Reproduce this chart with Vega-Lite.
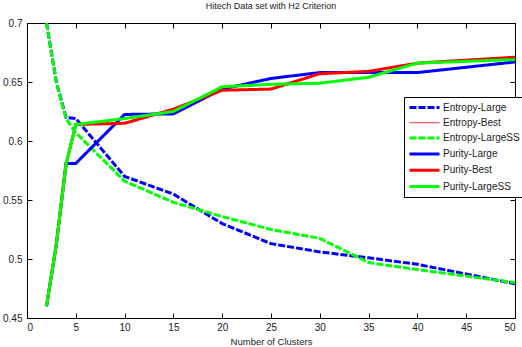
{
 "$schema": "https://vega.github.io/schema/vega-lite/v6.json",
 "width": 488, "height": 295,
 "autosize": "none",
 "padding": {"left": 27, "top": 23, "right": 7, "bottom": 29},
 "background": "white",
 "config": {"view": {"stroke": "black", "strokeWidth": 1}, "font": "Liberation Sans",
   "legend": {"strokeColor": "black", "fillColor": "white", "strokeWidth": 1},
   "axis": {"labelFontSize": 10, "labelColor": "#222", "domainColor": "black", "tickColor": "black", "grid": false, "titleFontWeight": "normal", "titleFontSize": 9.5, "titleColor": "#222"}},
 "title": {"text": "Hitech Data set with H2 Criterion", "fontSize": 9, "fontWeight": "normal", "offset": 7, "color": "#222"},
 "data": {"values": [
  {"series": "Entropy-Large", "clusters": 2, "value": 0.70},
  {"series": "Entropy-Large", "clusters": 3, "value": 0.65},
  {"series": "Entropy-Large", "clusters": 4, "value": 0.62},
  {"series": "Entropy-Large", "clusters": 5, "value": 0.619},
  {"series": "Entropy-Large", "clusters": 10, "value": 0.57},
  {"series": "Entropy-Large", "clusters": 15, "value": 0.555},
  {"series": "Entropy-Large", "clusters": 20, "value": 0.53},
  {"series": "Entropy-Large", "clusters": 25, "value": 0.513},
  {"series": "Entropy-Large", "clusters": 30, "value": 0.506},
  {"series": "Entropy-Large", "clusters": 35, "value": 0.501},
  {"series": "Entropy-Large", "clusters": 40, "value": 0.4955},
  {"series": "Entropy-Large", "clusters": 50, "value": 0.479},
  {"series": "Entropy-LargeSS", "clusters": 2, "value": 0.70},
  {"series": "Entropy-LargeSS", "clusters": 3, "value": 0.65},
  {"series": "Entropy-LargeSS", "clusters": 4, "value": 0.619},
  {"series": "Entropy-LargeSS", "clusters": 5, "value": 0.607},
  {"series": "Entropy-LargeSS", "clusters": 10, "value": 0.566},
  {"series": "Entropy-LargeSS", "clusters": 15, "value": 0.548},
  {"series": "Entropy-LargeSS", "clusters": 20, "value": 0.536},
  {"series": "Entropy-LargeSS", "clusters": 25, "value": 0.525},
  {"series": "Entropy-LargeSS", "clusters": 30, "value": 0.5175},
  {"series": "Entropy-LargeSS", "clusters": 35, "value": 0.497},
  {"series": "Entropy-LargeSS", "clusters": 40, "value": 0.491},
  {"series": "Entropy-LargeSS", "clusters": 50, "value": 0.48},
  {"series": "Purity-Large", "clusters": 2, "value": 0.46},
  {"series": "Purity-Large", "clusters": 3, "value": 0.512},
  {"series": "Purity-Large", "clusters": 4, "value": 0.581},
  {"series": "Purity-Large", "clusters": 5, "value": 0.581},
  {"series": "Purity-Large", "clusters": 10, "value": 0.6225},
  {"series": "Purity-Large", "clusters": 15, "value": 0.623},
  {"series": "Purity-Large", "clusters": 20, "value": 0.644},
  {"series": "Purity-Large", "clusters": 25, "value": 0.653},
  {"series": "Purity-Large", "clusters": 30, "value": 0.658},
  {"series": "Purity-Large", "clusters": 35, "value": 0.658},
  {"series": "Purity-Large", "clusters": 40, "value": 0.658},
  {"series": "Purity-Large", "clusters": 50, "value": 0.667},
  {"series": "Purity-Best", "clusters": 2, "value": 0.46},
  {"series": "Purity-Best", "clusters": 3, "value": 0.512},
  {"series": "Purity-Best", "clusters": 4, "value": 0.58},
  {"series": "Purity-Best", "clusters": 5, "value": 0.614},
  {"series": "Purity-Best", "clusters": 10, "value": 0.615},
  {"series": "Purity-Best", "clusters": 15, "value": 0.627},
  {"series": "Purity-Best", "clusters": 20, "value": 0.643},
  {"series": "Purity-Best", "clusters": 25, "value": 0.644},
  {"series": "Purity-Best", "clusters": 30, "value": 0.657},
  {"series": "Purity-Best", "clusters": 35, "value": 0.659},
  {"series": "Purity-Best", "clusters": 40, "value": 0.666},
  {"series": "Purity-Best", "clusters": 50, "value": 0.671},
  {"series": "Purity-LargeSS", "clusters": 2, "value": 0.46},
  {"series": "Purity-LargeSS", "clusters": 3, "value": 0.512},
  {"series": "Purity-LargeSS", "clusters": 4, "value": 0.58},
  {"series": "Purity-LargeSS", "clusters": 5, "value": 0.614},
  {"series": "Purity-LargeSS", "clusters": 10, "value": 0.619},
  {"series": "Purity-LargeSS", "clusters": 15, "value": 0.625},
  {"series": "Purity-LargeSS", "clusters": 20, "value": 0.646},
  {"series": "Purity-LargeSS", "clusters": 25, "value": 0.648},
  {"series": "Purity-LargeSS", "clusters": 30, "value": 0.649},
  {"series": "Purity-LargeSS", "clusters": 35, "value": 0.654},
  {"series": "Purity-LargeSS", "clusters": 40, "value": 0.666},
  {"series": "Purity-LargeSS", "clusters": 50, "value": 0.669}
 ]},
 "layer": [
  {
   "mark": {"type": "line", "clip": true},
   "encoding": {
    "x": {"field": "clusters", "type": "quantitative", "scale": {"domain": [0, 50], "nice": false},
      "axis": {"orient": "bottom", "values": [0,5,10,15,20,25,30,35,40,45,50], "tickSize": -5, "labelPadding": 9, "title": "Number of Clusters", "titlePadding": 4}},
    "y": {"field": "value", "type": "quantitative", "scale": {"domain": [0.45, 0.7], "nice": false, "zero": false},
      "axis": {"orient": "left", "values": [0.45,0.5,0.55,0.6,0.65,0.7], "format": ".2~f", "tickSize": -5, "labelPadding": 10, "title": null}},
    "color": {"field": "series", "type": "nominal",
      "scale": {"domain": ["Entropy-Large","Entropy-Best","Entropy-LargeSS","Purity-Large","Purity-Best","Purity-LargeSS"],
                "range": ["#0000ff","#ff0000","#00ff00","#0000ff","#ff0000","#00ff00"]},
      "legend": {"orient": "none", "legendX": 377, "legendY": 74, "title": null, "strokeColor": "black", "fillColor": "white",
        "padding": 4, "symbolType": "M-1,0H5", "symbolSize": 100, "labelFontSize": 10, "labelColor": "#222", "rowPadding": 3.2, "labelOffset": 22,
        "encode": {"legend": {"update": {"stroke": {"value": "black"}, "strokeWidth": {"value": 1}, "fill": {"value": "white"}}}}}},
    "strokeDash": {"field": "series", "type": "nominal",
      "scale": {"domain": ["Entropy-Large","Entropy-Best","Entropy-LargeSS","Purity-Large","Purity-Best","Purity-LargeSS"],
                "range": [[7,2],[1,0],[7,2],[1,0],[1,0],[1,0]]}},
    "strokeWidth": {"field": "series", "type": "nominal",
      "scale": {"type": "ordinal", "domain": ["Entropy-Large","Entropy-Best","Entropy-LargeSS","Purity-Large","Purity-Best","Purity-LargeSS"],
                "range": [3,1,3,3,3,3]}}
   }
  },
  {
   "mark": {"type": "point", "opacity": 0},
   "encoding": {
    "x": {"field": "clusters", "type": "quantitative", "axis": {"orient": "top", "values": [0,5,10,15,20,25,30,35,40,45,50], "labels": false, "tickSize": -5, "title": null}},
    "y": {"field": "value", "type": "quantitative", "axis": {"orient": "right", "values": [0.45,0.5,0.55,0.6,0.65,0.7], "labels": false, "tickSize": -5, "title": null}}
   }
  }
 ],
 "resolve": {"axis": {"x": "independent", "y": "independent"}}
}
